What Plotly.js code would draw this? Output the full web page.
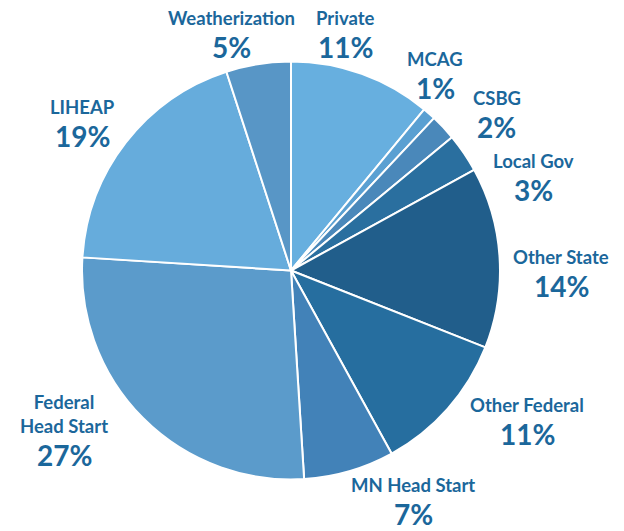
<!DOCTYPE html>
<html>
<head>
<meta charset="utf-8">
<script src="https://cdn.plot.ly/plotly-3.0.1.min.js"></script>
<style>
  html, body { margin: 0; padding: 0; background: #fff; }
  #funding-pie { width: 624px; height: 531px; }
</style>
</head>
<body>
<div id="funding-pie"></div>
<script>
var sources = ['Private', 'MCAG', 'CSBG', 'Local Gov', 'Other State', 'Other Federal',
  'MN Head Start', 'Federal Head Start', 'LIHEAP', 'Weatherization'];
var labelNames = ['Private', 'MCAG', 'CSBG', 'Local Gov', 'Other State', 'Other Federal',
  'MN Head Start', 'Federal<br>Head Start', 'LIHEAP', 'Weatherization'];
var shares = [11, 1, 2, 3, 14, 11, 7, 27, 19, 5];
var sliceColors = ['#67afdf', '#5aa0d2', '#4a88ba', '#2a6f9f', '#215e8b', '#266e9f',
  '#4282b8', '#5b9bcb', '#66acdc', '#5896c6'];

// label centres in pixels (x, y of the percent line)
var labelPos = [[345, 47], [435, 88], [497, 127], [533, 190], [561, 286],
  [527, 434], [413, 514], [64, 455], [82, 136], [231, 47]];

var W = 624, H = 531;
var textColor = '#1b679b';

function drawFundingPie() {
  var plotData = [{
    type: 'pie',
    labels: sources,
    values: shares,
    sort: false,
    direction: 'clockwise',
    rotation: 0,
    textinfo: 'none',
    hoverinfo: 'label+percent',
    marker: { colors: sliceColors, line: { color: '#ffffff', width: 2 } },
    domain: { x: [82 / W, 500 / W], y: [(H - 481) / H, (H - 60) / H] }
  }];

  var annotations = [];
  for (var i = 0; i < sources.length; i++) {
    var x = labelPos[i][0] / W;
    var y = (H - labelPos[i][1]) / H;
    var gap = labelNames[i].indexOf('<br>') >= 0 ? 41 : 29;
    annotations.push({
      xref: 'paper', yref: 'paper', x: x, y: y,
      xanchor: 'center', yanchor: 'middle', showarrow: false,
      text: '<b>' + shares[i] + '%</b>',
      font: { family: 'Lato, sans-serif', size: 28, color: textColor }
    });
    annotations.push({
      xref: 'paper', yref: 'paper', x: x, y: y + gap / H,
      xanchor: 'center', yanchor: 'middle', showarrow: false,
      text: '<b>' + labelNames[i] + '</b>',
      font: { family: 'Lato, sans-serif', size: 18.5, color: textColor }
    });
  }

  var layout = {
    width: W,
    height: H,
    margin: { l: 0, r: 0, t: 0, b: 0 },
    showlegend: false,
    paper_bgcolor: '#ffffff',
    annotations: annotations
  };

  Plotly.newPlot('funding-pie', plotData, layout, { displayModeBar: false });
}

document.addEventListener('DOMContentLoaded', drawFundingPie);
</script>
</body>
</html>
